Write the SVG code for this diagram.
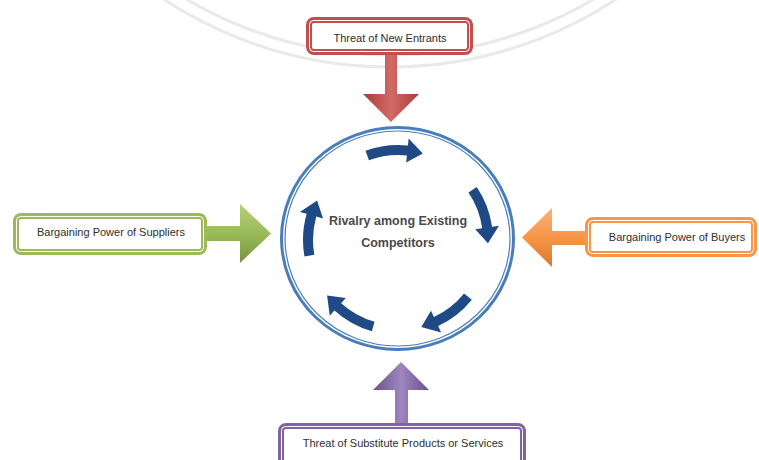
<svg xmlns="http://www.w3.org/2000/svg" width="759" height="460" viewBox="0 0 759 460">
<style>
.lbl{font-family:"Liberation Sans",Arial,sans-serif;font-size:11px;fill:#2e2e2e;text-anchor:middle}
.ctr{font-family:"Liberation Sans",Arial,sans-serif;font-size:12.5px;font-weight:bold;fill:#4a4a4a;text-anchor:middle}
.inner{fill:none;stroke:#fff;stroke-width:1}
.wm{fill:none;stroke:#e9e9e9;stroke-width:3}
</style>
<defs>
<linearGradient id="gRed" x1="0" y1="0" x2="1" y2="0"><stop offset="0" stop-color="#a63d3a"/><stop offset="0.5" stop-color="#d46a66"/><stop offset="1" stop-color="#a63d3a"/></linearGradient>
<linearGradient id="gPur" x1="0" y1="0" x2="1" y2="0"><stop offset="0" stop-color="#6a508c"/><stop offset="0.5" stop-color="#9f86c0"/><stop offset="1" stop-color="#6a508c"/></linearGradient>
<linearGradient id="gGrn" x1="0" y1="0" x2="0" y2="1"><stop offset="0" stop-color="#b5d078"/><stop offset="0.5" stop-color="#9bbb59"/><stop offset="1" stop-color="#76933c"/></linearGradient>
<linearGradient id="gOra" x1="0" y1="0" x2="0" y2="1"><stop offset="0" stop-color="#f9b27a"/><stop offset="0.5" stop-color="#f79646"/><stop offset="1" stop-color="#d9782c"/></linearGradient>
<path id="cyc" d="M95,0 A95,95 0 0 1 85.39,41.65 L91.7,44.7 L72.81,52.9 L70.1,34.2 L76.4,37.26 A85,85 0 0 0 85,0 Z" fill="#1f4a85"/>
</defs>
<rect width="759" height="460" fill="#fff"/>
<circle class="wm" cx="390" cy="-344" r="411"/>
<circle class="wm" cx="390" cy="-344" r="399"/>

<g id="connectors">
<path d="M385,55 H397 V94 H419 L391,122 L363,94 H385 Z" fill="url(#gRed)"/>
<path d="M207,226 H240 V204 L271,233.5 L240,263 V241 H207 Z" fill="url(#gGrn)"/>
<path d="M588,231 H552 V208 L522,237.5 L552,267 V245 H588 Z" fill="url(#gOra)"/>
<path d="M395,426 V390 H373 L401,362 L429,390 H408 V426 Z" fill="url(#gPur)"/>
</g>

<g id="rivalry">
<ellipse cx="397.5" cy="238.5" rx="116" ry="111" fill="#fff" stroke="#4a7ebb" stroke-width="3"/>
<ellipse cx="397.5" cy="238.5" rx="112.5" ry="107.5" fill="none" stroke="#4a7ebb" stroke-width="1.2"/>
<g transform="translate(398,240)">
<use href="#cyc" transform="rotate(-110)"/>
<use href="#cyc" transform="rotate(-34)"/>
<use href="#cyc" transform="rotate(39)"/>
<use href="#cyc" transform="rotate(106)"/>
<use href="#cyc" transform="rotate(170)"/>
</g>
<text class="ctr" x="398" y="225">Rivalry among Existing</text>
<text class="ctr" x="398" y="247">Competitors</text>
</g>

<g id="new-entrants">
<rect x="309" y="20" width="161" height="32" rx="5" fill="#fff" stroke="#c0504d" stroke-width="6"/>
<rect class="inner" x="309.5" y="20.5" width="160" height="31" rx="4"/>
<text class="lbl" x="390" y="42">Threat of New Entrants</text>
</g>

<g id="suppliers">
<rect x="16" y="216" width="188" height="36" rx="5" fill="#fff" stroke="#9bbb59" stroke-width="6"/>
<rect class="inner" x="16.5" y="216.5" width="187" height="35" rx="4"/>
<text class="lbl" x="111" y="236">Bargaining Power of Suppliers</text>
</g>

<g id="buyers">
<rect x="588" y="220" width="166" height="34" rx="5" fill="#fff" stroke="#f79646" stroke-width="6"/>
<rect class="inner" x="588.5" y="220.5" width="165" height="33" rx="4"/>
<text class="lbl" x="677" y="241">Bargaining Power of Buyers</text>
</g>

<g id="substitutes">
<rect x="281" y="426" width="242" height="42" rx="5" fill="#fff" stroke="#8064a2" stroke-width="6"/>
<rect class="inner" x="281.5" y="426.5" width="241" height="41" rx="4"/>
<text class="lbl" x="403" y="447">Threat of Substitute Products or Services</text>
</g>
</svg>
